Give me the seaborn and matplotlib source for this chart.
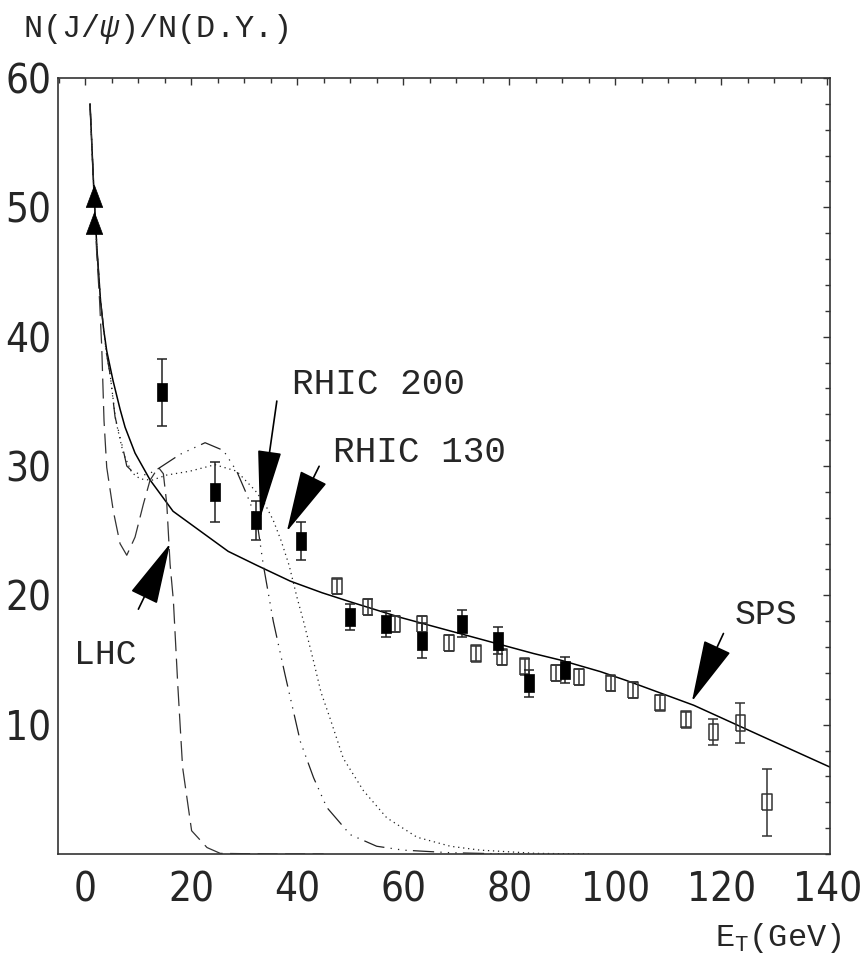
import numpy as np
import pandas as pd
import matplotlib
matplotlib.use('Agg')
import matplotlib.pyplot as plt
from matplotlib.ticker import MultipleLocator
import seaborn as sns

# model curves: E_T (GeV) vs N(J/psi)/N(D.Y.)
sps_x = [0.94, 1.75, 2.26, 2.92, 3.5, 4.09, 5.28, 6.6, 7.55, 9.43, 12.3, 16.6,
         22.3, 27.0, 32.5, 38.7, 44.7, 50.0, 59.4, 72.0, 84.6, 89.6, 97.2,
         102.2, 114.8, 127.4, 140.6]
sps_y = [58.0, 50.5, 46.7, 42.8, 40.6, 38.9, 36.6, 34.4, 33.0, 31.0, 28.9, 26.5,
         24.8, 23.4, 22.3, 21.1, 20.2, 19.5, 18.3, 16.9, 15.5, 15.0, 14.1,
         13.4, 11.5, 9.15, 6.7]

lhc_x = [0.94, 1.75, 2.17, 2.74, 3.15, 3.58, 4.09, 5.34, 6.6, 7.87, 9.43, 11.0,
         12.26, 13.83, 14.77, 15.42, 16.04, 16.66, 17.5, 18.4, 20.1, 23.0, 25.5,
         35.0, 45.0]
lhc_y = [58.0, 50.5, 46.7, 42.8, 39.2, 33.5, 29.9, 26.5, 24.0, 23.1, 24.5, 27.05,
         28.9, 29.9, 29.4, 27.05, 22.4, 19.6, 13.0, 6.7, 1.8, 0.5, 0.05,
         0.0, 0.0]

rhic200_x = [0.94, 1.75, 2.26, 2.92, 3.96, 4.72, 5.66, 7.23, 7.87, 9.13, 11.64,
             13.83, 17.92, 22.64, 26.1, 28.6, 30.5, 32.4, 33.6, 35.5, 37.7, 40.6,
             43.1, 45.6, 50.0, 55.0, 60.0, 68.9, 80.0]
rhic200_y = [58.0, 50.5, 46.7, 42.8, 38.9, 37.1, 33.8, 31.2, 30.0, 29.5, 29.3,
             29.8, 30.9, 31.8, 31.2, 29.6, 27.8, 25.8, 22.4, 18.0, 13.9, 8.7,
             5.9, 3.6, 1.5, 0.6, 0.3, 0.1, 0.0]

rhic130_x = [0.94, 1.75, 2.26, 2.92, 3.96, 4.72, 5.8, 7.2, 8.8, 10.4, 12.6, 15.4,
             19.8, 24.5, 28.6, 32.1, 34.0, 35.5, 37.0, 38.5, 40.0, 41.2, 43.1,
             44.5, 46.2, 48.7, 52.5, 56.9, 62.6, 68.9, 74.5, 85.0, 95.0]
rhic130_y = [58.0, 50.5, 46.7, 42.8, 38.9, 37.1, 33.5, 31.0, 29.5, 29.0, 28.9, 29.3,
             29.6, 30.1, 29.6, 28.1, 27.0, 25.8, 24.2, 22.3, 19.8, 18.0, 14.9,
             12.5, 10.5, 7.4, 4.9, 2.8, 1.3, 0.6, 0.3, 0.05, 0.0]

# measured points
filled_x = [14.5, 24.5, 32.3, 40.7, 50.0, 56.8, 63.6, 71.1, 77.9, 83.8, 90.6]
filled_y = [35.7, 28.0, 25.8, 24.2, 18.3, 17.8, 16.5, 17.8, 16.5, 13.2, 14.2]
filled_err = [2.6, 2.3, 1.5, 1.5, 1.0, 1.0, 1.35, 1.05, 1.05, 1.05, 1.0]

open_x = [47.5, 53.3, 58.5, 63.5, 68.6, 73.7, 78.7, 82.9, 88.8, 93.1, 99.1,
          103.3, 108.4, 113.4, 118.5, 123.6, 128.6]
open_y = [20.7, 19.1, 17.8, 17.8, 16.3, 15.5, 15.2, 14.5, 14.0, 13.7, 13.2,
          12.7, 11.7, 10.4, 9.4, 10.1, 4.0]
open_err = [0.6, 0.6, 0.6, 0.6, 0.6, 0.6, 0.6, 0.6, 0.6, 0.6, 0.6,
            0.6, 0.6, 0.6, 1.0, 1.55, 2.6]

tri_x = [1.75, 1.75]
tri_y = [50.85, 48.8]

sns.set_style('white')
plt.rcParams['font.family'] = ['Liberation Mono', 'DejaVu Sans']
plt.rcParams['mathtext.fontset'] = 'custom'
plt.rcParams['mathtext.rm'] = 'Liberation Mono'
plt.rcParams['mathtext.it'] = 'Liberation Mono:italic'

fig = plt.figure(figsize=(8.63, 9.64), dpi=100)
ax = fig.add_axes([0.0672, 0.1141, 0.8946, 0.8050])

sns.lineplot(x=sps_x, y=sps_y, ax=ax, color='black', linewidth=1.1)
sns.lineplot(x=lhc_x, y=lhc_y, ax=ax, color='#333333', linewidth=0.9,
             linestyle=(0, (16, 6)))
sns.lineplot(x=rhic200_x, y=rhic200_y, ax=ax, color='#222222', linewidth=0.9,
             linestyle=(0, (17, 5, 1, 5, 1, 5, 1, 5)))
sns.lineplot(x=rhic130_x, y=rhic130_y, ax=ax, color='#222222', linewidth=0.9,
             linestyle=(0, (1, 3)))

rect = [(-0.6, -1), (0.6, -1), (0.6, 1), (-0.6, 1), (-0.6, -1)]
tri = [(0, 1), (-0.75, -1), (0.75, -1), (0, 1)]

ax.errorbar(open_x, open_y, yerr=open_err, fmt='none', ecolor='#333333',
            elinewidth=1.1, capsize=3.8, capthick=1.1)
ax.errorbar(filled_x, filled_y, yerr=filled_err, fmt='none', ecolor='#222222',
            elinewidth=1.1, capsize=3.8, capthick=1.1)
sns.scatterplot(x=open_x, y=open_y, ax=ax, marker=rect, s=135,
                facecolor='none', edgecolor='#333333', linewidth=1.1, zorder=3)
sns.scatterplot(x=filled_x, y=filled_y, ax=ax, marker=rect, s=150,
                color='black', edgecolor='black', linewidth=0.5, zorder=4)
sns.scatterplot(x=tri_x, y=tri_y, ax=ax, marker=tri, s=250,
                color='black', edgecolor='black', linewidth=0.5, zorder=4)

# arrows pointing at the curves
arrows = [((10.06, 18.93), (16.04, 24.0), 39.6, 9.4),
          ((36.17, 35.02), (33.0, 25.9), 44.6, 7.6),
          ((44.15, 29.98), (38.06, 24.94), 40.0, 9.4),
          ((120.4, 17.05), (114.45, 11.8), 40.0, 9.4)]
for tail, tip, hl, hw in arrows:
    ax.annotate('', xy=tip, xytext=tail,
                arrowprops=dict(arrowstyle=f'-|>,head_length={hl},head_width={hw}',
                                mutation_scale=1, color='black', lw=1.2,
                                shrinkA=0, shrinkB=0))

ax.text(-2.1, 14.7, 'LHC', fontsize=25, va='baseline', ha='left')
ax.text(39.0, 35.6, 'RHIC 200', fontsize=26, va='baseline', ha='left')
ax.text(46.8, 30.3, 'RHIC 130', fontsize=26, va='baseline', ha='left')
ax.text(122.6, 17.8, 'SPS', fontsize=25, va='baseline', ha='left')

ax.set_xlim(-5.1, 140.5)
ax.set_ylim(0, 60)
ax.set_xticks(range(0, 141, 20))
ax.set_yticks(range(10, 61, 10))
ax.xaxis.set_minor_locator(MultipleLocator(5))
ax.yaxis.set_minor_locator(MultipleLocator(2))
ax.tick_params(which='both', direction='in', top=True, right=True,
               color='#333333', width=1.0)
ax.tick_params(which='major', length=5, labelsize=29)
ax.tick_params(which='minor', length=3.5)
ax.tick_params(axis='x', pad=12)
ax.tick_params(axis='y', pad=5)
for lbl in ax.get_xticklabels() + ax.get_yticklabels():
    lbl.set_fontfamily('DejaVu Sans')
    lbl.set_fontstretch('condensed')
ax.set_xlabel('')
ax.set_ylabel('')
for sp in ax.spines.values():
    sp.set_color('#333333')
    sp.set_linewidth(1.2)

fig.text(23 / 863, 1 - 37 / 964, 'N(J/$\\psi$)/N(D.Y.)', fontsize=23,
         va='baseline', ha='left')
fig.text(715 / 863, 1 - 946 / 964, 'E$_{\\rm T}$(GeV)', fontsize=23,
         va='baseline', ha='left')

fig.savefig('out.png', dpi=100)
